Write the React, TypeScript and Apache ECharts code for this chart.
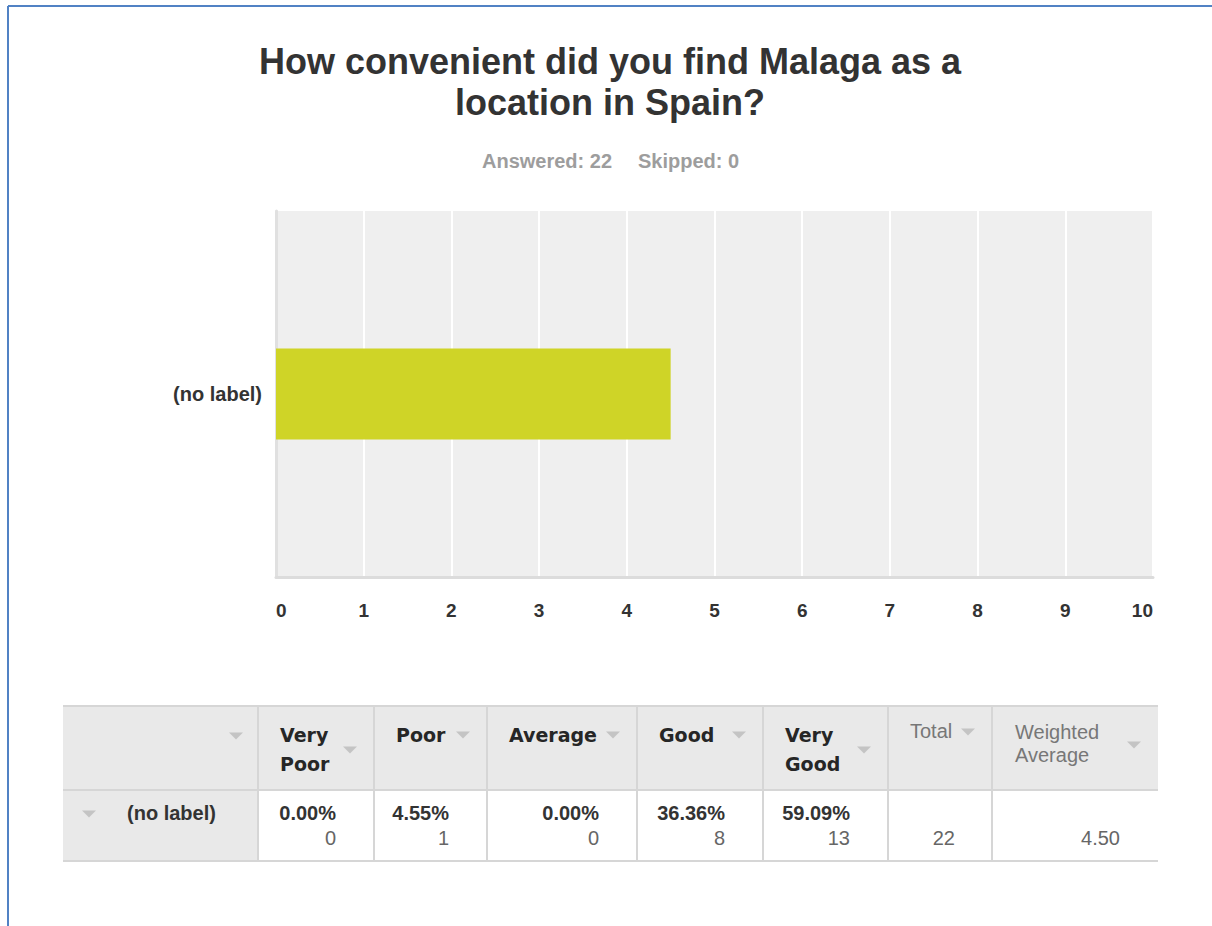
import React, { useEffect, useRef } from "react";
import * as echarts from "echarts";

const titleText = "How convenient did you find Malaga as a\nlocation in Spain?";
const answered = 22;
const skipped = 0;
const categories = ["(no label)"];
const barValues = [4.5];
const columnHeaders = ["Very\nPoor", "Poor", "Average", "Good", "Very\nGood"];
const percents = ["0.00%", "4.55%", "0.00%", "36.36%", "59.09%"];
const counts = [0, 1, 0, 8, 13];
const totalHeader = "Total";
const avgHeader = "Weighted\nAverage";
const totalValue = 22;
const weightedAverage = "4.50";

const FONT = "'Liberation Sans', Arial, sans-serif";
const WIDE = "'DejaVu Sans', Verdana, sans-serif";

function tri(cx: number, cy: number) {
  return {
    type: "polygon",
    shape: { points: [[cx - 7, cy - 3.5], [cx + 7, cy - 3.5], [cx, cy + 3.5]] },
    style: { fill: "#c4c4c4" },
  };
}

function txt(text: string, x: number, y: number, font: string, fill: string, align = "left", lineHeight = 22) {
  return {
    type: "text",
    x,
    y,
    style: {
      text,
      font,
      fill,
      align,
      textAlign: align,
      verticalAlign: "middle",
      textVerticalAlign: "middle",
      lineHeight,
    },
  };
}

function buildTable() {
  const colX = [63, 258, 374, 487, 637, 763, 888, 992, 1158];
  const top = 706;
  const hb = 790;
  const rb = 861;
  const border = "#d6d6d6";
  const els: any[] = [];
  els.push({ type: "rect", shape: { x: colX[0], y: top, width: colX[8] - colX[0], height: hb - top }, style: { fill: "#e9e9e9" } });
  els.push({ type: "rect", shape: { x: colX[0], y: hb, width: colX[1] - colX[0], height: rb - hb }, style: { fill: "#e9e9e9" } });
  els.push({ type: "rect", shape: { x: colX[1], y: hb, width: colX[8] - colX[1], height: rb - hb }, style: { fill: "#ffffff" } });
  [top, hb, rb].forEach((y) =>
    els.push({ type: "line", shape: { x1: colX[0], y1: y, x2: colX[8], y2: y }, style: { stroke: border, lineWidth: 2 } })
  );
  for (let i = 1; i < 8; i++) {
    els.push({ type: "line", shape: { x1: colX[i], y1: top, x2: colX[i], y2: rb }, style: { stroke: border, lineWidth: 2 } });
  }
  els.push(tri(colX[1] - 22, 736));
  columnHeaders.forEach((h, i) => {
    const left = colX[i + 1];
    const right = colX[i + 2];
    const twoLine = h.includes("\n");
    els.push(txt(h, left + 22, twoLine ? 749.5 : 735, `bold 19px ${WIDE}`, "#262626", "left", 29));
    els.push(tri(right - 24, twoLine ? 750 : 735));
    els.push(txt(percents[i], right - 38, 813, `bold 20px ${FONT}`, "#333333", "right"));
    els.push(txt(String(counts[i]), right - 38, 838, `20px ${FONT}`, "#666666", "right"));
  });
  els.push(txt(totalHeader, colX[6] + 22, 731, `20px ${FONT}`, "#777777", "left"));
  els.push(tri(colX[7] - 24, 732));
  els.push(txt(avgHeader, colX[7] + 23, 743, `20px ${FONT}`, "#777777", "left", 23));
  els.push(tri(colX[8] - 24, 745));
  els.push(txt(String(totalValue), colX[7] - 37, 838, `20px ${FONT}`, "#666666", "right"));
  els.push(txt(weightedAverage, colX[8] - 38, 838, `20px ${FONT}`, "#666666", "right"));
  els.push(tri(89, 814));
  els.push(txt(categories[0], 127, 813, `bold 20px ${FONT}`, "#333333", "left"));
  return els;
}

export default function App() {
  const ref = useRef<HTMLDivElement>(null);
  useEffect(() => {
    if (!ref.current) return;
    const chart = echarts.init(ref.current, null, { renderer: "svg" });
    chart.setOption({
      animation: false,
      backgroundColor: "#ffffff",
      title: {
        text: titleText,
        left: 610,
        top: 41,
        padding: 0,
        textAlign: "center",
        textStyle: { fontFamily: FONT, fontSize: 36, fontWeight: "bold", color: "#333333", lineHeight: 41 },
      },
      grid: {
        left: 276,
        top: 211,
        width: 877,
        height: 366,
        show: true,
        backgroundColor: "#efefef",
        borderWidth: 0,
      },
      xAxis: {
        type: "value",
        min: 0,
        max: 10,
        interval: 1,
        axisLine: { show: true, lineStyle: { color: "#dcdcdc", width: 3 } },
        axisTick: { show: false },
        splitLine: { show: true, lineStyle: { color: "#ffffff", width: 2 } },
        axisLabel: {
          margin: 24,
          fontFamily: FONT,
          fontSize: 19,
          fontWeight: "bold",
          color: "#333333",
          alignMinLabel: "left",
          alignMaxLabel: "right",
        },
      },
      yAxis: {
        type: "category",
        data: categories,
        axisLine: { show: true, lineStyle: { color: "#e0e0e0", width: 3 } },
        axisTick: { show: false },
        axisLabel: { margin: 14, fontFamily: FONT, fontSize: 20, fontWeight: "bold", color: "#333333" },
      },
      series: [
        {
          type: "bar",
          data: barValues,
          barWidth: 91,
          itemStyle: { color: "#cfd427" },
        },
      ],
      graphic: [
        { type: "line", shape: { x1: 8, y1: 6, x2: 1212, y2: 6 }, style: { stroke: "#5182c4", lineWidth: 2 } },
        { type: "line", shape: { x1: 8, y1: 6, x2: 8, y2: 926 }, style: { stroke: "#5182c4", lineWidth: 2 } },
        txt(`Answered: ${answered}`, 482, 161, `bold 20px ${FONT}`, "#9d9d9d", "left"),
        txt(`Skipped: ${skipped}`, 638, 161, `bold 20px ${FONT}`, "#9d9d9d", "left"),
        ...buildTable(),
      ],
    });
    return () => chart.dispose();
  }, []);
  return <div ref={ref} style={{ position: "fixed", left: 0, top: 0, width: 1212, height: 926 }} />;
}
